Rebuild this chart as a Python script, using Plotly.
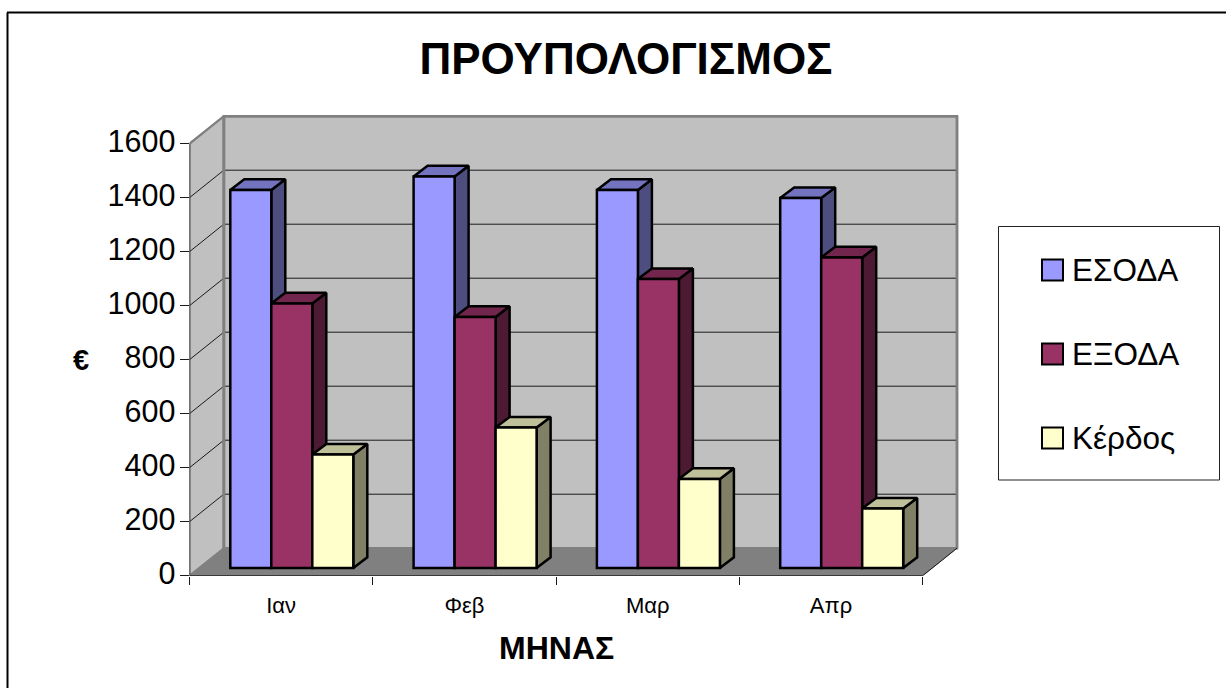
import plotly.graph_objects as go

months = ["Ιαν", "Φεβ", "Μαρ", "Απρ"]
series_names = ["ΕΣΟΔΑ", "ΕΞΟΔΑ", "Κέρδος"]
esoda = [1400, 1450, 1400, 1370]
exoda = [980, 930, 1070, 1150]
kerdos = [420, 520, 330, 220]
series_values = [esoda, exoda, kerdos]
front_colors = ["#9999FF", "#993366", "#FFFFCC"]
side_colors = ["#4D4D80", "#4D1A33", "#808066"]
top_colors = ["#7373BF", "#73264D", "#BFBF99"]
y_ticks = [0, 200, 400, 600, 800, 1000, 1200, 1400, 1600]

W, H = 1226, 688
# scale: pixels per unit
CAT_PX = 183.3
Y_PX = 0.27
X0_PX, Y0_PX = 189.5, 575.7
WALL_DX = 34.3 / CAT_PX
WALL_DY = 27.5 / Y_PX
BAR_DX = 14 / CAT_PX
BAR_DY = 10.7 / Y_PX
BAR_W = 41 / CAT_PX
BAR_BASE = 7.7 / Y_PX
BAR_LEFT = (230.3 - X0_PX) / CAT_PX - 0.5

x_min, x_max_front = -0.5, 3.5
x_max = x_max_front + WALL_DX + 0.02
y_top = 1600
y_max = y_top + WALL_DY + 15

fig = go.Figure()


def poly(xs, ys, fill, line="#000000", width=2.5, z=0):
    fig.add_trace(go.Scatter(x=xs + xs[:1], y=ys + ys[:1], mode="lines", fill="toself",
                             fillcolor=fill, line=dict(color=line, width=width),
                             cliponaxis=False, hoverinfo="skip", showlegend=False, zorder=z))


def line(xs, ys, color, width, z=1):
    fig.add_trace(go.Scatter(x=xs, y=ys, mode="lines", line=dict(color=color, width=width),
                             cliponaxis=False, hoverinfo="skip", showlegend=False, zorder=z))


# Walls and floor
wx0, wx1 = x_min + WALL_DX, x_max_front + WALL_DX
poly([wx0, wx1, wx1, wx0], [WALL_DY, WALL_DY, y_top + WALL_DY, y_top + WALL_DY], "#C0C0C0", "#808080", 2.5, 0)
poly([x_min, wx0, wx0, x_min], [0, WALL_DY, y_top + WALL_DY, y_top], "#C0C0C0", "#808080", 2, 0)
poly([x_min, wx0, wx1, x_max_front], [0, WALL_DY, WALL_DY, 0], "#808080", "#808080", 1, 0)

# Gridlines
for t in y_ticks[1:-1]:
    line([x_min, wx0, wx1], [t, t + WALL_DY, t + WALL_DY], "#1A1A1A", 1, 1)
line([wx0, wx0], [WALL_DY, y_top + WALL_DY], "#808080", 3, 1)
line([wx0, wx1], [y_top + WALL_DY, y_top + WALL_DY], "#808080", 2.5, 1)
line([x_min, wx0], [y_top, y_top + WALL_DY], "#808080", 2, 1)
line([wx1, wx1], [WALL_DY, y_top + WALL_DY], "#808080", 2.5, 1)
line([x_max_front, wx1], [0, WALL_DY], "#1A1A1A", 1, 1)
line([x_min, x_max_front], [0, 0], "#1A1A1A", 1.5, 1)
line([x_min, x_min], [0, y_top], "#333333", 1.5, 1)

# Bars: side and top faces, then the front
for s, vals in enumerate(series_values):
    z = 2 + 2 * s
    for c, v in enumerate(vals):
        L = c + BAR_LEFT + s * BAR_W
        R = L + BAR_W
        top = BAR_BASE + v
        poly([R, R + BAR_DX, R + BAR_DX, R],
             [BAR_BASE, BAR_BASE + BAR_DY, top + BAR_DY, top], side_colors[s], z=z)
        poly([L, L + BAR_DX, R + BAR_DX, R],
             [top, top + BAR_DY, top + BAR_DY, top], top_colors[s], z=z)
    fig.add_trace(go.Bar(
        x=[c + BAR_LEFT + s * BAR_W for c in range(len(months))],
        y=vals, base=[BAR_BASE] * len(vals), width=[BAR_W] * len(vals), offset=0,
        name=series_names[s], marker=dict(color=front_colors[s], line=dict(color="#000000", width=2.5)),
        showlegend=False, cliponaxis=False, zorder=z + 1))

sans = "Liberation Sans, Arial, sans-serif"


def px(v):
    return v / W


def py(v):
    return 1 - v / H


shapes = [
    # outer chart border
    dict(type="line", xref="paper", yref="paper", x0=px(7.5), x1=px(7.5), y0=0, y1=py(12.5),
         line=dict(color="#000000", width=2)),
    dict(type="line", xref="paper", yref="paper", x0=px(7), x1=1, y0=py(12.5), y1=py(12.5),
         line=dict(color="#000000", width=2)),
    # legend box
    dict(type="rect", xref="paper", yref="paper", x0=px(998.5), x1=px(1219.5), y0=py(480), y1=py(226.5),
         line=dict(color="#222222", width=1), fillcolor="#FFFFFF"),
]
annotations = [
    dict(text="<b>€</b>", xref="paper", yref="paper", x=px(81), y=py(360), showarrow=False,
         font=dict(family=sans, size=29, color="#000000"), xanchor="center", yanchor="middle"),
    dict(text="<b>ΜΗΝΑΣ</b>", xref="paper", yref="paper", x=px(556), y=py(648), showarrow=False,
         font=dict(family=sans, size=32, color="#000000"), xanchor="center", yanchor="middle"),
]
for i, name in enumerate(series_names):
    cy = 270 + 84 * i
    shapes.append(dict(type="rect", xref="paper", yref="paper", x0=px(1042), x1=px(1063), y0=py(cy + 10.5), y1=py(cy - 10.5),
                       fillcolor=front_colors[i], line=dict(color="#000000", width=2)))
    annotations.append(dict(text=name, xref="paper", yref="paper", x=px(1069.5), y=py(cy - 0.5), showarrow=False,
                            xanchor="left", yanchor="middle", font=dict(family=sans, size=31.5, color="#000000")))

fig.update_layout(
    width=W, height=H, margin=dict(l=0, r=0, t=0, b=0),
    paper_bgcolor="#FFFFFF", plot_bgcolor="rgba(0,0,0,0)",
    barmode="overlay", showlegend=False, shapes=shapes, annotations=annotations,
    title=dict(text="<b>ΠΡΟΥΠΟΛΟΓΙΣΜΟΣ</b>", x=626 / W, xanchor="center", y=py(59), yanchor="middle",
               font=dict(family=sans, size=44, color="#000000")),
    xaxis=dict(
        domain=[px(X0_PX), px(X0_PX + (x_max - x_min) * CAT_PX)], automargin=False,
        range=[x_min, x_max], showgrid=False, zeroline=False, showline=False,
        tickmode="array", tickvals=list(range(len(months))), ticktext=months, ticks="", ticklen=0,
        tickfont=dict(family=sans, size=22, color="#000000"), ticklabelstandoff=14,
        minor=dict(tickmode="array", tickvals=[c - 0.5 for c in range(len(months) + 1)],
                   ticks="outside", ticklen=8, tickwidth=1, tickcolor="#1A1A1A", showgrid=False),
    ),
    yaxis=dict(
        domain=[py(Y0_PX), py(Y0_PX - y_max * Y_PX)], automargin=False,
        range=[0, y_max], showgrid=False, zeroline=False, showline=False,
        tickmode="array", tickvals=y_ticks, ticks="outside", ticklen=9, tickwidth=1, tickcolor="#1A1A1A",
        tickfont=dict(family=sans, size=30.5, color="#000000"), ticklabelstandoff=-2, ticklabelshift=-2,
    ),
)

fig.write_html("out.html", config={"displayModeBar": False},
               post_script="document.body.style.margin='0';")
